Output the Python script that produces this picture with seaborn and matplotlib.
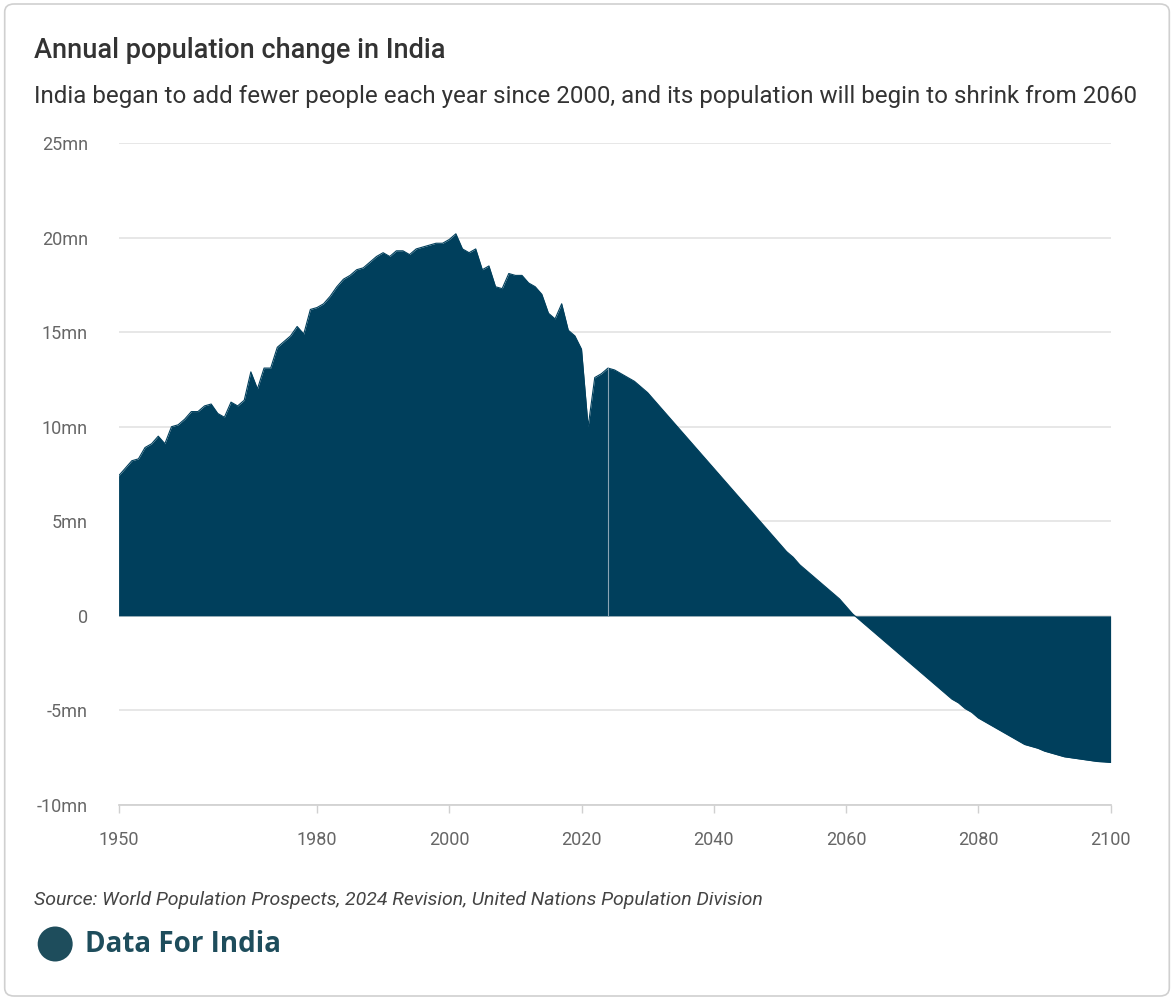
import matplotlib
matplotlib.use("Agg")
import matplotlib.pyplot as plt
import seaborn as sns
import numpy as np
import pandas as pd
from matplotlib.patches import FancyBboxPatch, Ellipse

hist_years = list(range(1950, 2025))
hist_vals = [7.4, 7.8, 8.2, 8.3, 8.9, 9.1, 9.5, 9.1, 10.0, 10.1,
             10.4, 10.8, 10.8, 11.1, 11.2, 10.7, 10.5, 11.3, 11.1, 11.4,
             12.9, 12.0, 13.1, 13.1, 14.2, 14.5, 14.8, 15.3, 14.9, 16.2,
             16.3, 16.5, 16.9, 17.4, 17.8, 18.0, 18.3, 18.4, 18.7, 19.0,
             19.2, 19.0, 19.3, 19.3, 19.1, 19.4, 19.5, 19.6, 19.7, 19.7,
             19.9, 20.2, 19.4, 19.2, 19.4, 18.3, 18.5, 17.4, 17.3, 18.1,
             18.0, 18.0, 17.6, 17.4, 17.0, 16.0, 15.7, 16.5, 15.1, 14.8,
             14.1, 10.0, 12.6, 12.8, 13.1]
proj_years = list(range(2024, 2101))
proj_vals = [13.1, 13.0, 12.8, 12.6, 12.4, 12.1, 11.8, 11.4, 11.0, 10.6,
             10.2, 9.8, 9.4, 9.0, 8.6, 8.2, 7.8, 7.4, 7.0, 6.6, 6.2,
             5.8, 5.4, 5.0, 4.6, 4.2, 3.8, 3.4, 3.1, 2.7, 2.4,
             2.1, 1.8, 1.5, 1.2, 0.9, 0.5, 0.1, -0.2, -0.5, -0.8,
             -1.1, -1.4, -1.7, -2.0, -2.3, -2.6, -2.9, -3.2, -3.5, -3.8,
             -4.1, -4.4, -4.6, -4.9, -5.1, -5.4, -5.6, -5.8, -6.0, -6.2,
             -6.4, -6.6, -6.8, -6.9, -7.0, -7.15, -7.25, -7.35, -7.45, -7.5,
             -7.55, -7.6, -7.65, -7.7, -7.72, -7.75]
yticks = [-10, -5, 0, 5, 10, 15, 20, 25]
ytick_labels = ["-10mn", "-5mn", "0", "5mn", "10mn", "15mn", "20mn", "25mn"]
xticks = [1950, 1980, 2000, 2020, 2040, 2060, 2080, 2100]

sns.set_theme(style="white")
plt.rcParams['font.family'] = ['Roboto', 'DejaVu Sans']

fig = plt.figure(figsize=(11.74, 10.0), dpi=100)
fig.patches.append(FancyBboxPatch((0.004, 0.004), 0.992, 0.992, boxstyle="round,pad=0,rounding_size=0.008",
                                  transform=fig.transFigure, fc="white", ec="#d0d0d0", lw=1.2, zorder=-10))
ax = fig.add_axes([0.101, 0.195, 0.845, 0.662])
ax.patch.set_alpha(0)
color = "#003f5c"
df = pd.DataFrame({"year": hist_years + proj_years[1:], "val": hist_vals + proj_vals[1:]})
sns.lineplot(data=df, x="year", y="val", ax=ax, color=color, lw=0.8)
ax.fill_between(df["year"], df["val"], 0, color=color, lw=0)
ax.axvline(2024, ymin=(0 + 10) / 35, ymax=(13.1 + 10) / 35, color="#8aa4b4", lw=0.8)

ax.set_xlim(1950, 2100)
ax.set_ylim(-10, 25)
ax.set_yticks(yticks)
ax.set_yticklabels(ytick_labels)
ax.set_xticks(xticks)
ax.set_xlabel("")
ax.set_ylabel("")
for y in yticks:
    ax.axhline(y, color="#e3e3e3", lw=1.2, zorder=0)
for s in ["top", "right", "left"]:
    ax.spines[s].set_visible(False)
ax.spines["bottom"].set_color("#d0d0d0")
ax.tick_params(axis="y", length=0, labelsize=13, colors="#666666", pad=22)
ax.tick_params(axis="x", length=6, width=1, color="#d0d0d0", labelsize=13, colors="#666666", bottom=True, pad=13)

fig.text(0.029, 0.942, "Annual population change in India", fontsize=19.5, fontweight="medium", color="#333333")
fig.text(0.029, 0.897, "India began to add fewer people each year since 2000, and its population will begin to shrink from 2060",
         fontsize=17.4, color="#333333")
fig.text(0.029, 0.095, "Source: World Population Prospects, 2024 Revision, United Nations Population Division",
         fontsize=14.0, style="italic", color="#444444")
fig.patches.append(Ellipse((0.047, 0.056), 0.035 * 1000 / 1174, 0.035, transform=fig.transFigure, fc="#1e4d5c", ec="none"))
fig.text(0.072, 0.056, "Data For India", fontsize=20, fontweight="bold", color="#1e4d5c", va="center",
         family=["Open Sans", "DejaVu Sans"])

fig.savefig("out.png", dpi=100)
